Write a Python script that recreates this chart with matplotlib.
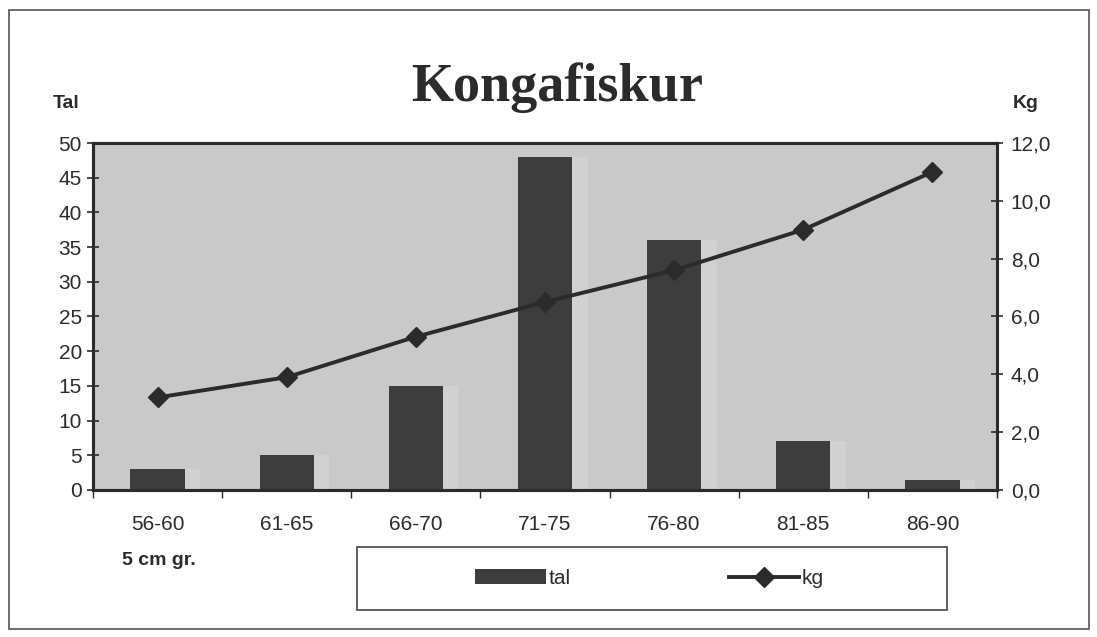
import numpy as np
from matplotlib import pyplot as plt
from matplotlib import rcParams
from matplotlib.lines import Line2D
from matplotlib.patches import Patch, Rectangle

categories = ['56-60', '61-65', '66-70', '71-75', '76-80', '81-85', '86-90']
tal = [3, 5, 15, 48, 36, 7, 1.5]
kg = [3.2, 3.9, 5.3, 6.5, 7.6, 9.0, 11.0]
left_ticks = [0, 5, 10, 15, 20, 25, 30, 35, 40, 45, 50]
right_ticks = [0, 2, 4, 6, 8, 10, 12]

rcParams['font.family'] = ['Liberation Sans', 'DejaVu Sans']
rcParams['font.size'] = 15

INK = '#2b2b2b'
BAR = '#3d3d3d'
BG = '#c9c9c9'

fig = plt.figure(figsize=(10.97, 6.37), dpi=100)
fig.patch.set_facecolor('white')

# outer frame of the chart
fig.add_artist(Rectangle((0.008, 0.012), 0.985, 0.972, transform=fig.transFigure,
                         fill=False, edgecolor='#555555', lw=1.2))

ax = fig.add_axes([0.0848, 0.2308, 0.8240, 0.5447])
ax.set_facecolor(BG)
x = np.arange(len(categories))

# faint light halo right of each bar, like the scan
ax.bar(x + 0.12, tal, width=0.42, color='#d1d1d1', zorder=1)
ax.bar(x, tal, width=0.42, color=BAR, zorder=2)
ax.set_xlim(-0.5, len(categories) - 0.5)
ax.set_ylim(0, 50)
ax.set_yticks(left_ticks)
ax.set_xticks(x)
ax.set_xticklabels(categories)
ax.set_xticks(np.arange(len(categories) + 1) - 0.5, minor=True)
ax.tick_params(axis='x', which='major', length=0, pad=18, labelsize=15, colors=INK)
ax.tick_params(axis='x', which='minor', length=6, width=1, color=INK, direction='out')
ax.tick_params(axis='y', length=8, width=1.2, color=INK, direction='inout', labelsize=15,
               labelcolor=INK, pad=4)
for s in ax.spines.values():
    s.set_linewidth(2.2)
    s.set_color(INK)

ax2 = ax.twinx()
ax2.plot(x, kg, color=INK, lw=2.8, marker='D', markersize=10, zorder=3)
ax2.set_ylim(0, 12)
ax2.set_yticks(right_ticks)
ax2.set_yticklabels([f'{v:.1f}'.replace('.', ',') for v in right_ticks])
ax2.tick_params(axis='y', length=8, width=1.2, color=INK, direction='inout', labelsize=15,
                labelcolor=INK, pad=6)
for s in ax2.spines.values():
    s.set_linewidth(2.2)
    s.set_color(INK)

fig.text(0.508, 0.862, 'Kongafiskur', family='Liberation Serif', weight='bold',
         fontsize=39, ha='center', va='center', color=INK)
fig.text(0.060, 0.838, 'Tal', weight='bold', fontsize=14, ha='center', va='center', color=INK)
fig.text(0.935, 0.838, 'Kg', weight='bold', fontsize=14, ha='center', va='center', color=INK)
fig.text(0.111, 0.120, '5 cm gr.', weight='bold', fontsize=14, ha='left', va='center', color=INK)

# legend frame
fig.add_artist(Rectangle((0.325, 0.042), 0.538, 0.1, transform=fig.transFigure,
                         fill=False, edgecolor='#444444', lw=1.2))
handles = [Patch(facecolor=BAR, edgecolor='none'),
           Line2D([0], [0], color=INK, lw=2.8, marker='D', markersize=10)]
leg = fig.legend(handles=handles, labels=['tal', 'kg'], ncol=2,
                 loc='center', bbox_to_anchor=(0.592, 0.092),
                 frameon=False, fontsize=15, handlelength=3.4, handletextpad=0.1,
                 columnspacing=7.6)
for t in leg.get_texts():
    t.set_color(INK)

fig.savefig('out.png', dpi=100)
